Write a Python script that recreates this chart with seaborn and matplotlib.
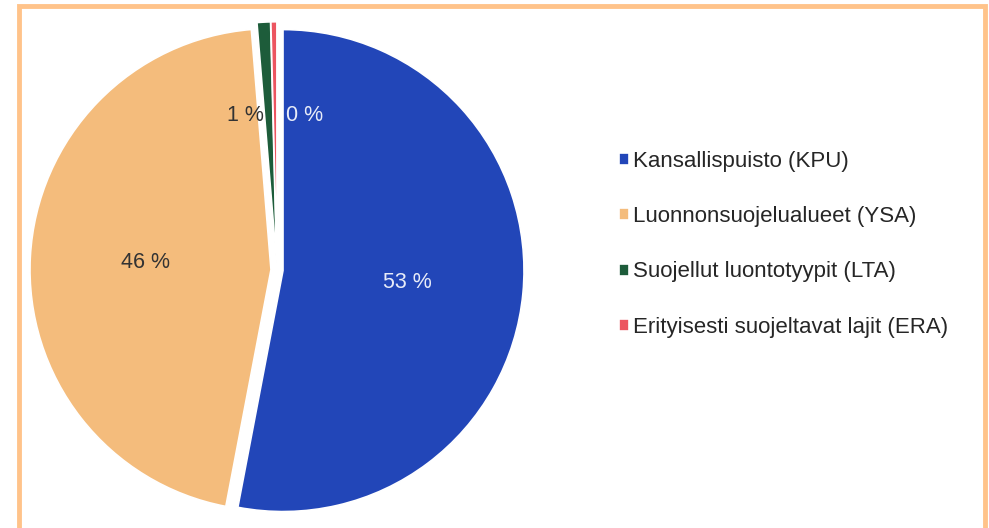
import matplotlib
matplotlib.use("Agg")
import matplotlib.pyplot as plt
import seaborn as sns
from matplotlib.patches import Rectangle

sns.set_theme(style="white")
plt.rcParams['font.family'] = ['Liberation Sans', 'DejaVu Sans']

categories = ["Kansallispuisto (KPU)", "Luonnonsuojelualueet (YSA)",
              "Suojellut luontotyypit (LTA)", "Erityisesti suojeltavat lajit (ERA)"]
values = [53.0, 45.7, 0.9, 0.4]
colors = ["#2246B8", "#F4BC7C", "#1D5C3A", "#EC5560"]
label_colors = ["#E8ECF8", "#333333", "#333333", "#E8ECF8"]
explode = [0.025, 0.025, 0.03, 0.03]

W, H = 989, 528
fig = plt.figure(figsize=(W / 100, H / 100), dpi=100)

R = 241.0
cx, cy = 277.0, 270.0
half = 1.08
ax_w = 2 * half * R
ax = fig.add_axes([(cx - half * R) / W, (H - cy - half * R) / H, ax_w / W, ax_w / H])

wedges, texts, autotexts = ax.pie(
    values, colors=colors, startangle=90, counterclock=False, explode=explode,
    autopct='%.0f %%', pctdistance=0.52,
    wedgeprops=dict(edgecolor="white", linewidth=1.2),
    textprops=dict(fontsize=15.5),
)
for t, c in zip(autotexts, label_colors):
    t.set_color(c)
# small-slice labels placed near the top, like the original
x2, y2 = autotexts[2].get_position()
autotexts[2].set_position((x2 - 0.10, 0.64))
x3, y3 = autotexts[3].get_position()
autotexts[3].set_position((x3 + 0.12, 0.64))

ax.set_xlim(-half, half)
ax.set_ylim(-half, half)
ax.set_aspect('equal')
ax.axis('off')

leg = fig.legend(wedges, categories, loc='upper left',
                 bbox_to_anchor=(599 / W, 1 - 131 / H),
                 frameon=False, fontsize=16, handlelength=0.45, handleheight=0.45,
                 handletextpad=0.2, labelspacing=1.54)
for t in leg.get_texts():
    t.set_color("#262626")

fig.patches.append(Rectangle((19 / W, -0.05), (985 - 19) / W, 1.05 - 6 / H,
                             transform=fig.transFigure, fill=False,
                             edgecolor="#FFC38A", linewidth=3.5, zorder=0))

fig.savefig("out.png", dpi=100, facecolor="white")
